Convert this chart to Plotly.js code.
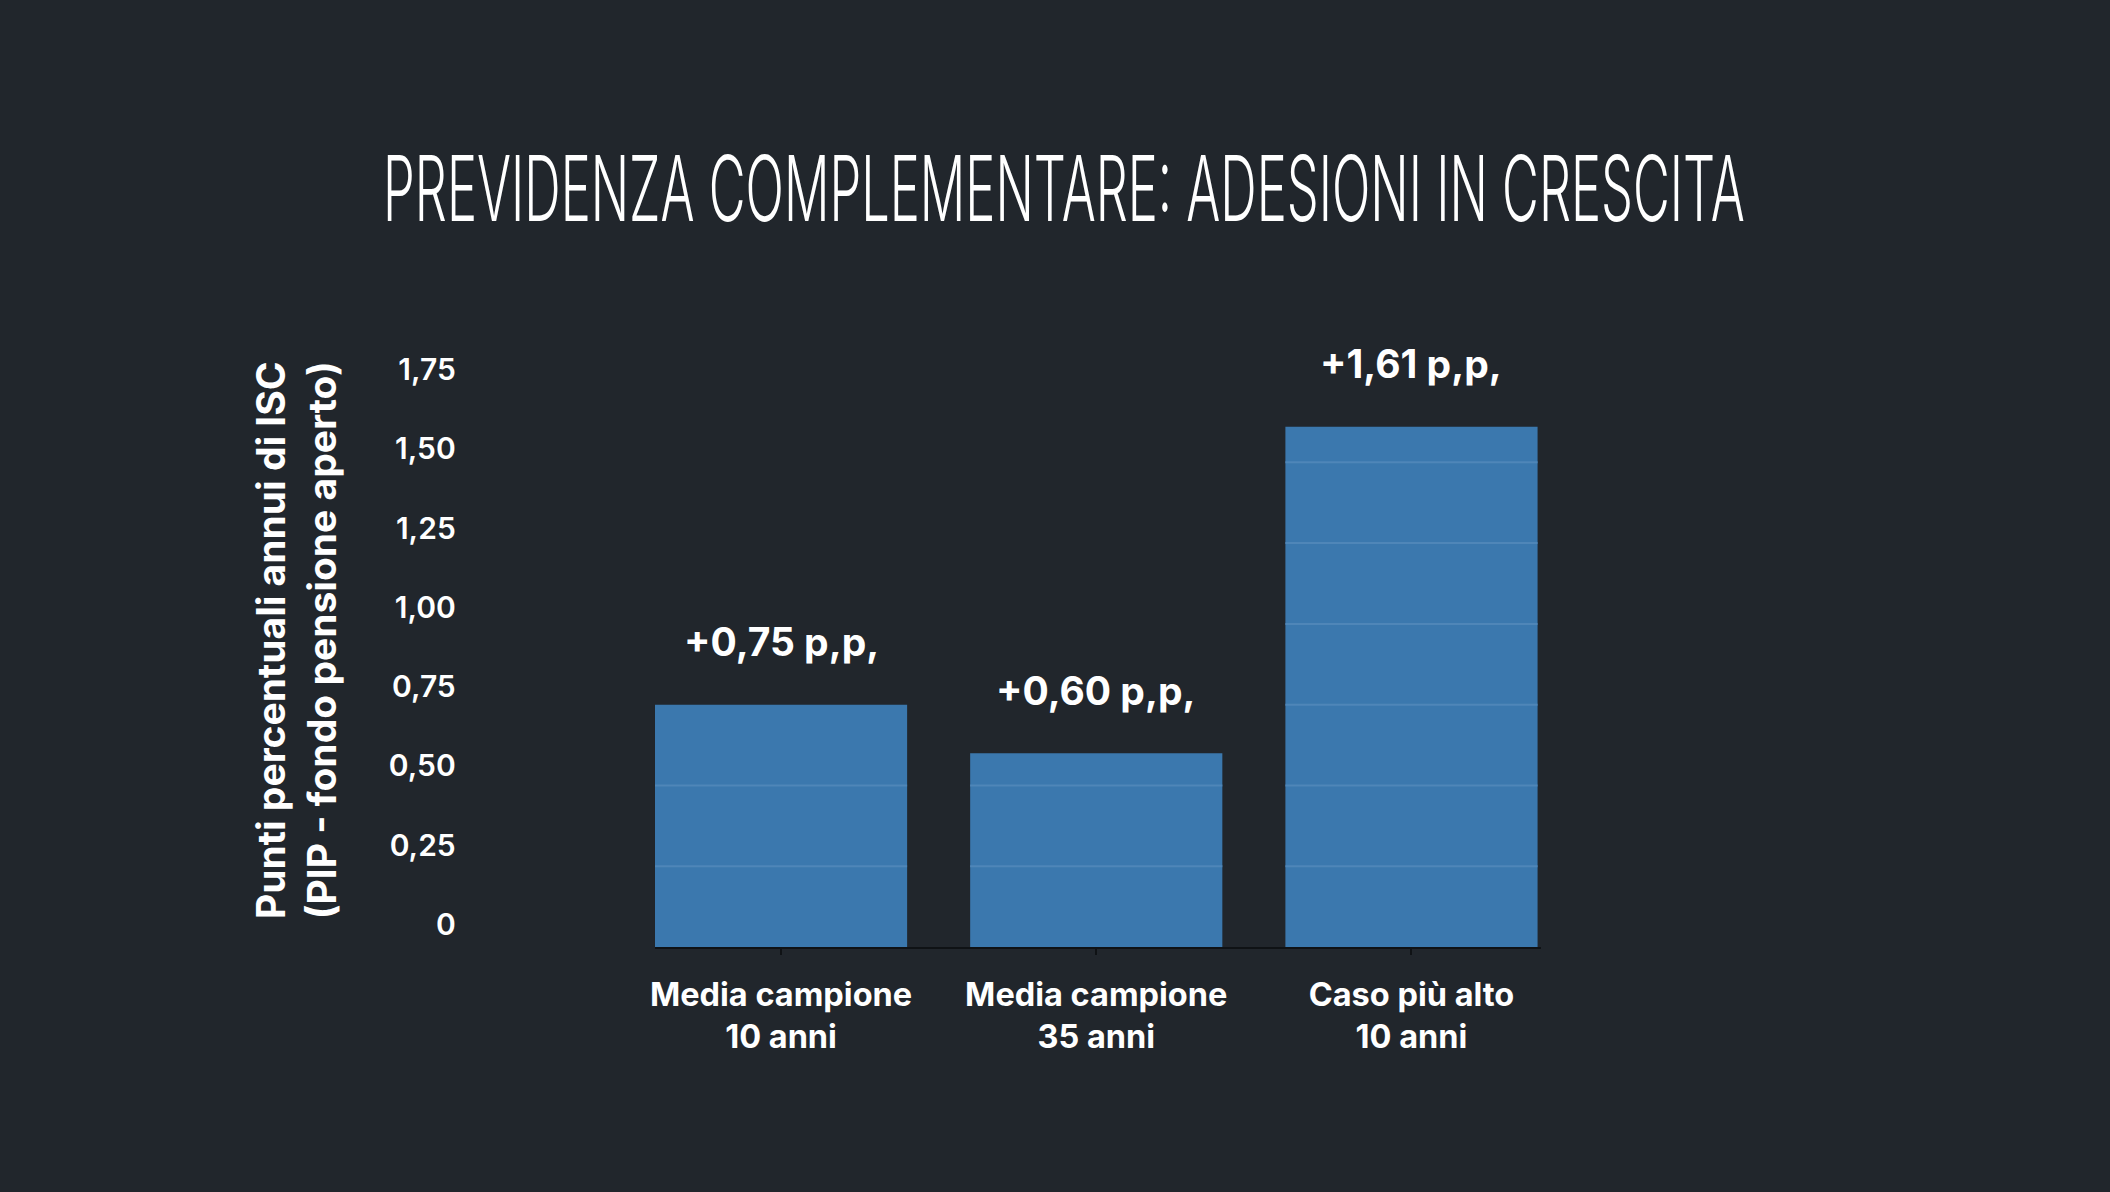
<!DOCTYPE html>
<html>
<head>
<meta charset="utf-8">
<script src="https://cdn.plot.ly/plotly-3.0.1.min.js"></script>
<style>
html,body{margin:0;padding:0;background:#21262c;}
#chart{width:2110px;height:1192px;}
</style>
</head>
<body>
<div id="chart"></div>
<script>
// ---- data ----
const categories = ["Media campione<br>10 anni", "Media campione<br>35 anni", "Caso più alto<br>10 anni"];
const values = [0.75, 0.60, 1.61];
const barLabels = ["+0,75 p,p,", "+0,60 p,p,", "+1,61 p,p,"];
const tickValues = [0, 0.25, 0.5, 0.75, 1.0, 1.25, 1.5, 1.75];
const tickLabels = ["0", "0,25", "0,50", "0,75", "1,00", "1,25", "1,50", "1,75"];
const gridValues = [0.25, 0.5, 0.75, 1.0, 1.25, 1.5];
const titleText = "PREVIDENZA COMPLEMENTARE: ADESIONI IN CRESCITA";
const yTitleText = "Punti percentuali annui di ISC<br>(PIP - fondo pensione aperto)";

const BG = "#21262c";
const BAR = "#3b78ae";
const GRID = "#4f86b8";
const halfWidth = 0.4;

const trace = {
  type: "bar",
  x: [0, 1, 2],
  y: values,
  marker: {color: BAR, line: {width: 0}},
  hoverinfo: "skip",
  showlegend: false
};

// invisible trace hosting the tick-label axis
const labelTrace = {
  type: "scatter",
  x: [0], y: [0],
  yaxis: "y2",
  mode: "markers",
  marker: {opacity: 0},
  hoverinfo: "skip",
  showlegend: false
};

const shapes = [];
values.forEach((v, i) => {
  gridValues.forEach(g => {
    if (g < v) {
      shapes.push({
        type: "line", xref: "x", yref: "y",
        x0: i - halfWidth, x1: i + halfWidth, y0: g, y1: g,
        line: {color: GRID, width: 2},
        layer: "above"
      });
    }
  });
});

const annotations = values.map((v, i) => ({
  x: i, y: v, xref: "x", yref: "y",
  text: barLabels[i], showarrow: false,
  yshift: 63,
  font: {family: "Inter", size: 39, color: "#ffffff", weight: 700}
}));

annotations.push({
  xref: "paper", yref: "paper",
  x: 0.1403, y: 0.463, xanchor: "center", yanchor: "middle",
  text: yTitleText,
  textangle: -90, showarrow: false,
  font: {family: "Inter", size: 39, color: "#ffffff", weight: 700}
});

const layout = {
  width: 2110, height: 1192,
  paper_bgcolor: BG, plot_bgcolor: BG,
  margin: {l: 0, r: 0, t: 0, b: 0},
  bargap: 0.2,
  title: {
    text: titleText,
    x: 0.5, xanchor: "center",
    y: 0.8406, yanchor: "middle", yref: "paper",
    font: {family: "Inter", size: 90, color: "#ffffff", weight: 300}
  },
  xaxis: {
    domain: [0.3104, 0.7302],
    range: [-0.4, 2.41],
    tickmode: "array",
    tickvals: [0, 1, 2],
    ticktext: categories,
    showline: true, linecolor: "#0f1215", linewidth: 2,
    ticks: "outside", ticklen: 6, tickcolor: "#0f1215", tickwidth: 2,
    ticklabelstandoff: 12,
    showgrid: false, zeroline: false,
    tickfont: {family: "Inter", size: 32.5, color: "#ffffff", weight: 700}
  },
  yaxis: {
    domain: [0.2055, 0.7206],
    range: [0, 1.90],
    showgrid: false, zeroline: false, showticklabels: false, showline: false
  },
  yaxis2: {
    overlaying: "y", anchor: "free", position: 0.216, side: "left",
    range: [-0.0716, 1.8653],
    tickmode: "array", tickvals: tickValues, ticktext: tickLabels,
    showgrid: false, zeroline: false, showline: false, ticks: "",
    tickfont: {family: "Inter", size: 30, color: "#ffffff", weight: 600}
  },
  shapes: shapes,
  annotations: annotations
};

Plotly.newPlot("chart", [trace, labelTrace], layout, {displayModeBar: false, staticPlot: true}).then(() => {
  // condense the title horizontally to mimic a compressed display face
  const t = document.querySelector(".gtitle");
  if (!t) return;
  const bb = t.getBBox();
  const targetWidth = 1362, targetCenter = 1064;
  const sx = targetWidth / bb.width;
  const tx = targetCenter - sx * (bb.x + bb.width / 2);
  t.setAttribute("transform", `translate(${tx},0) scale(${sx},1)`);
});
</script>
</body>
</html>
